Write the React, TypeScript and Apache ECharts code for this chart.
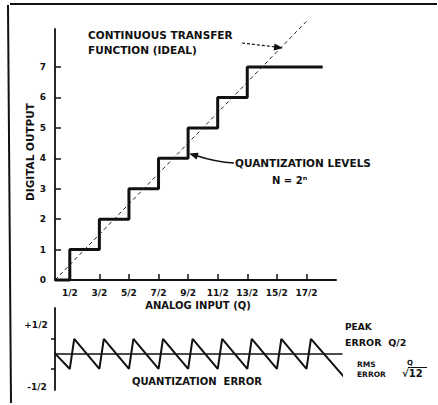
import React, { useEffect, useRef } from "react";
import * as echarts from "echarts";

// ---- data ----
const xTickValues = [0.5, 1.5, 2.5, 3.5, 4.5, 5.5, 6.5, 7.5, 8.5];
const xTickLabels = ["1/2", "3/2", "5/2", "7/2", "9/2", "11/2", "13/2", "15/2", "17/2"];
const yTickValues = [0, 1, 2, 3, 4, 5, 6, 7];
const levelThresholds = [0.5, 1.5, 2.5, 3.5, 4.5, 5.5, 6.5];
const levelValues = [0, 1, 2, 3, 4, 5, 6, 7];
const stairEndX = 9.05;
const idealLine = [
  [0, 0],
  [8.5, 8.5],
];
const errorPoints = [
  [-1, 1.05],
  [0.5, -0.5],
  [0.65, 0.5],
  [1.5, -0.5],
  [1.65, 0.5],
  [2.5, -0.5],
  [2.65, 0.5],
  [3.5, -0.5],
  [3.65, 0.5],
  [4.5, -0.5],
  [4.65, 0.5],
  [5.5, -0.5],
  [5.65, 0.5],
  [6.5, -0.5],
  [6.65, 0.5],
  [7.5, -0.5],
  [7.65, 0.5],
  [8.5, -0.5],
  [8.65, 0.5],
  [9.86, -0.87],
];
const errorTickValues = [-0.5, 0.5];

function buildStairs() {
  const pts: number[][] = [[0, levelValues[0]]];
  levelThresholds.forEach((t, i) => {
    pts.push([t, levelValues[i]]);
    pts.push([t, levelValues[i + 1]]);
  });
  pts.push([stairEndX, levelValues[levelValues.length - 1]]);
  return pts;
}

const INK = "#111";
const FF = '"DejaVu Sans", sans-serif';

function txt(text: string, x: number, y: number, size: number, align = "left", extra: any = {}) {
  return {
    type: "text",
    x,
    y,
    ...extra,
    style: {
      text,
      fill: INK,
      font: `bold ${size}px ${FF}`,
      textAlign: align,
      textVerticalAlign: "middle",
    },
  };
}

export default function App() {
  const ref = useRef<HTMLDivElement>(null);
  useEffect(() => {
    if (!ref.current) return;
    const chart = echarts.init(ref.current, null, { renderer: "svg" });
    const option: any = {
      animation: false,
      backgroundColor: "#fff",
      grid: [
        { left: 55, top: 29, width: 281, height: 251 },
        { left: 55, top: 308, width: 287, height: 82 },
      ],
      xAxis: [
        {
          type: "value",
          gridIndex: 0,
          min: 0,
          max: 9.5,
          axisLine: { show: true, lineStyle: { color: INK, width: 2 } },
          axisTick: {
            show: true,
            inside: true,
            length: 6,
            customValues: xTickValues,
            lineStyle: { color: INK, width: 1.5 },
          },
          axisLabel: {
            customValues: xTickValues,
            formatter: (v: number) => xTickLabels[xTickValues.indexOf(v)] ?? "",
            margin: 8,
            fontSize: 9,
            fontWeight: "bold",
            fontFamily: FF,
            color: INK,
          },
          splitLine: { show: false },
        },
        {
          type: "value",
          gridIndex: 1,
          min: 0,
          max: 9.7,
          axisLine: { show: true, onZero: true, lineStyle: { color: INK, width: 1.5 } },
          axisTick: { show: false },
          axisLabel: { show: false },
          splitLine: { show: false },
        },
      ],
      yAxis: [
        {
          type: "value",
          gridIndex: 0,
          min: 0,
          max: 8.25,
          axisLine: { show: true, lineStyle: { color: INK, width: 1.8 } },
          axisTick: {
            show: true,
            inside: true,
            length: 6,
            customValues: yTickValues,
            lineStyle: { color: INK, width: 1.5 },
          },
          axisLabel: {
            customValues: yTickValues,
            margin: 9,
            fontSize: 9,
            fontWeight: "bold",
            fontFamily: FF,
            color: INK,
          },
          splitLine: { show: false },
        },
        {
          type: "value",
          gridIndex: 1,
          min: -1.2,
          max: 1.53,
          axisLine: { show: true, lineStyle: { color: INK, width: 1.8 } },
          axisTick: {
            show: true,
            inside: false,
            length: 4,
            customValues: errorTickValues,
            lineStyle: { color: INK, width: 1.5 },
          },
          axisLabel: { show: false },
          splitLine: { show: false },
        },
      ],
      series: [
        {
          type: "line",
          name: "Quantization levels",
          xAxisIndex: 0,
          yAxisIndex: 0,
          data: buildStairs(),
          symbol: "none",
          clip: false,
          lineStyle: { color: INK, width: 3 },
        },
        {
          type: "line",
          name: "Continuous transfer function",
          xAxisIndex: 0,
          yAxisIndex: 0,
          data: idealLine,
          symbol: "none",
          clip: false,
          lineStyle: { color: "#222", width: 1, type: [4, 3] },
        },
        {
          type: "line",
          name: "Quantization error",
          xAxisIndex: 1,
          yAxisIndex: 1,
          data: errorPoints,
          symbol: "none",
          clip: false,
          lineStyle: { color: INK, width: 2 },
        },
      ],
      graphic: [
        { type: "line", shape: { x1: 10, y1: 4, x2: 437, y2: 4 }, style: { stroke: INK, lineWidth: 2 } },
        { type: "line", shape: { x1: 8, y1: 5, x2: 11, y2: 403 }, style: { stroke: INK, lineWidth: 2 } },
        txt("CONTINUOUS TRANSFER", 88, 35, 10.5),
        txt("FUNCTION (IDEAL)", 88, 50, 10.5),
        {
          type: "line",
          shape: { x1: 242, y1: 43, x2: 276, y2: 47 },
          style: { stroke: INK, lineWidth: 1.2, lineDash: [3, 2] },
        },
        {
          type: "polygon",
          shape: { points: [[283, 48], [274.5, 43.4], [273.7, 50.4]] },
          style: { fill: INK },
        },
        txt("QUANTIZATION LEVELS", 235, 163, 10.5),
        txt("N = 2ⁿ", 272, 180, 10),
        {
          type: "bezierCurve",
          shape: { x1: 234, y1: 163, cpx1: 215, cpy1: 162, cpx2: 205, cpy2: 158.5, x2: 196, y2: 155.5 },
          style: { stroke: INK, lineWidth: 1.5, fill: "none" },
        },
        {
          type: "polygon",
          shape: { points: [[189, 153.5], [198.6, 152.7], [196.6, 159.4]] },
          style: { fill: INK },
        },
        txt("DIGITAL OUTPUT", 30, 152, 10.5, "center", { rotation: Math.PI / 2 }),
        txt("ANALOG INPUT (Q)", 198, 305, 10, "center"),
        txt("+1/2", 36, 325, 9, "center"),
        txt("-1/2", 37, 387, 9, "center"),
        txt("QUANTIZATION  ERROR", 132, 381, 10),
        txt("PEAK", 345, 327, 9),
        txt("ERROR  Q/2", 345, 342, 9.5),
        txt("RMS", 357, 364, 7.5),
        txt("ERROR", 357, 374, 7.5),
        txt("Q", 410, 363, 7, "center"),
        txt("√12", 402, 373, 10),
        { type: "line", shape: { x1: 408, y1: 367.5, x2: 427, y2: 367.5 }, style: { stroke: INK, lineWidth: 1 } },
      ],
    };
    chart.setOption(option);
    return () => chart.dispose();
  }, []);
  return (
    <div
      ref={ref}
      style={{ position: "fixed", left: 0, top: 0, width: 438, height: 405, background: "#fff" }}
    />
  );
}
